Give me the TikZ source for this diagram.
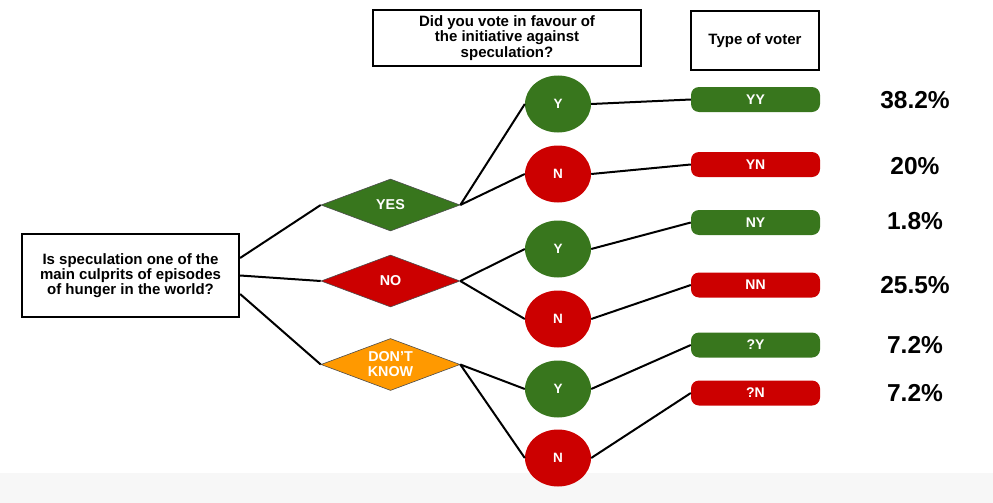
\documentclass[tikz,border=0pt]{standalone}
\usepackage{fontspec}
\setmainfont{Liberation Sans}
\usetikzlibrary{shapes.geometric}
\definecolor{gr}{HTML}{38761D}
\definecolor{rd}{HTML}{CC0000}
\definecolor{og}{HTML}{FF9900}
\definecolor{strip}{HTML}{F7F7F7}
\tikzset{
  qbox/.style={draw=black, line width=2.2pt, fill=white, align=center, inner sep=0pt,
    font=\bfseries\fontsize{15}{15.3}\selectfont},
  choice/.style={diamond, draw=black!70, line width=0.6pt, inner sep=0pt, aspect=2.67,
    minimum width=139pt, minimum height=52pt, text=white, align=center,
    font=\bfseries\fontsize{14.3}{15}\selectfont},
  vote/.style={ellipse, inner sep=0pt, minimum width=66pt, minimum height=57pt,
    text=white, font=\bfseries\fontsize{13.5}{15}\selectfont},
  kind/.style={rounded corners=8pt, inner sep=0pt, minimum width=129pt, minimum height=25pt,
    text=white, font=\bfseries\fontsize{14}{15}\selectfont},
  pct/.style={font=\bfseries\fontsize{24.5}{28}\selectfont},
  link/.style={line width=2pt, draw=black}
}
\begin{document}
\begin{tikzpicture}[x=1pt,y=-1pt]
\useasboundingbox (0,0) rectangle (993,503);
\fill[strip] (0,473) rectangle (993,503);

\node[qbox, minimum width=217pt, minimum height=83pt] (q) at (130.5,275.5)
  {Is speculation one of the\\main culprits of episodes\\of hunger in the world?};
\node[qbox, minimum width=268pt, minimum height=56pt] (h1) at (507,38)
  {Did you vote in favour of\\the initiative against\\speculation?};
\node[qbox, minimum width=128pt, minimum height=59pt] (h2) at (755,40.5)
  {Type of voter};

\node[choice, fill=gr] (yes) at (390.5,205) {YES};
\node[choice, fill=rd] (no) at (390.5,281) {NO};
\node[choice, fill=og] (dk) at (390.5,364.5) {DON'T\\KNOW};

\node[vote, fill=gr] (y1) at (558,104) {Y};
\node[vote, fill=rd] (n1) at (558,174) {N};
\node[vote, fill=gr] (y2) at (558,249) {Y};
\node[vote, fill=rd] (n2) at (558,319) {N};
\node[vote, fill=gr] (y3) at (558,389) {Y};
\node[vote, fill=rd] (n3) at (558,458) {N};

\node[kind, fill=gr] (yy) at (755.5,99.5) {YY};
\node[kind, fill=rd] (yn) at (755.5,164.5) {YN};
\node[kind, fill=gr] (ny) at (755.5,222.5) {NY};
\node[kind, fill=rd] (nn) at (755.5,285) {NN};
\node[kind, fill=gr] (qy) at (755.5,345) {?Y};
\node[kind, fill=rd] (qn) at (755.5,393) {?N};

\node[pct] (p1) at (915,100) {38.2\%};
\node[pct] (p2) at (915,166) {20\%};
\node[pct] (p3) at (915,221) {1.8\%};
\node[pct] (p4) at (915,285) {25.5\%};
\node[pct] (p5) at (915,345) {7.2\%};
\node[pct] (p6) at (915,393) {7.2\%};

\draw[link] ([yshift=17.5pt]q.east) -- (yes.west);
\draw[link] (q.east) -- (no.west);
\draw[link] ([yshift=-18.5pt]q.east) -- (dk.west);

\draw[link] (yes.east) -- (y1.west);
\draw[link] (yes.east) -- (n1.west);
\draw[link] (no.east) -- (y2.west);
\draw[link] (no.east) -- (n2.west);
\draw[link] (dk.east) -- (y3.west);
\draw[link] (dk.east) -- (n3.west);

\draw[link] (y1.east) -- (yy.west);
\draw[link] (n1.east) -- (yn.west);
\draw[link] (y2.east) -- (ny.west);
\draw[link] (n2.east) -- (nn.west);
\draw[link] (y3.east) -- (qy.west);
\draw[link] (n3.east) -- (qn.west);
\end{tikzpicture}
\end{document}
